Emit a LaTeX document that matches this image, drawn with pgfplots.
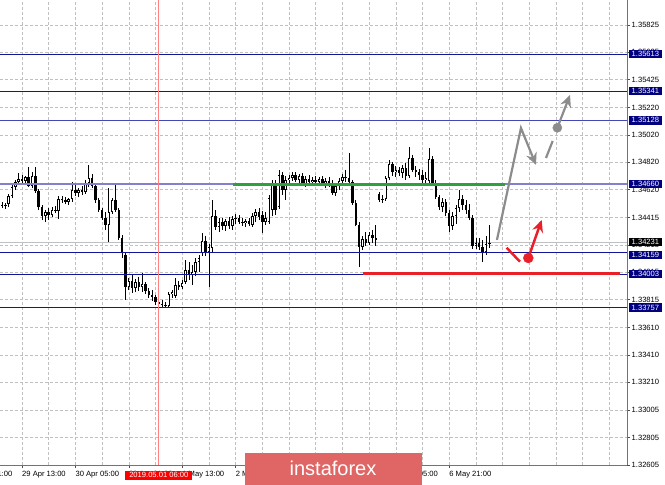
\documentclass[border=0pt]{standalone}
\usepackage{fontspec}
\setmainfont{Liberation Sans}
\usepackage{pgfplots}
\pgfplotsset{compat=1.18}
\usepackage{pgfplotstable}
\usetikzlibrary{arrows.meta}
\definecolor{mtnavy}{RGB}{20,20,150}
\definecolor{mtlav}{RGB}{128,128,205}
\definecolor{mtmid}{RGB}{70,70,180}
\definecolor{gridc}{RGB}{192,192,192}
\definecolor{grn}{RGB}{46,160,64}
\definecolor{lvred}{RGB}{234,32,40}
\definecolor{vred}{RGB}{255,130,130}
\definecolor{arrgray}{RGB}{140,140,140}
\definecolor{wmred}{RGB}{224,102,102}
\definecolor{pricegray}{RGB}{192,192,192}
\definecolor{boxnavy}{RGB}{0,0,128}
\newcommand{\tfont}{\fontsize{7.6}{8}\selectfont}
\pgfplotstableread{
x o h l c
-6 1.34508 1.34530 1.34486 1.34501
-5 1.34501 1.34522 1.34479 1.34508
-4 1.34515 1.34588 1.34493 1.34574
-3 1.34574 1.34654 1.34559 1.34640
-2 1.34640 1.34691 1.34618 1.34676
-1 1.34676 1.34742 1.34662 1.34698
0 1.34698 1.34727 1.34669 1.34684
1 1.34684 1.34720 1.34662 1.34713
2 1.34713 1.34786 1.34640 1.34647
3 1.34647 1.34749 1.34632 1.34720
4 1.34720 1.34786 1.34596 1.34610
5 1.34610 1.34625 1.34471 1.34493
6 1.34493 1.34508 1.34398 1.34427
7 1.34427 1.34471 1.34383 1.34457
8 1.34457 1.34486 1.34398 1.34435
9 1.34435 1.34493 1.34420 1.34471
10 1.34471 1.34501 1.34449 1.34464
11 1.34464 1.34574 1.34405 1.34552
12 1.34552 1.34574 1.34522 1.34544
13 1.34544 1.34566 1.34515 1.34530
14 1.34530 1.34559 1.34508 1.34552
15 1.34552 1.34676 1.34530 1.34618
16 1.34618 1.34654 1.34574 1.34596
17 1.34596 1.34632 1.34566 1.34618
18 1.34618 1.34647 1.34581 1.34603
19 1.34603 1.34691 1.34588 1.34669
20 1.34669 1.34801 1.34640 1.34705
21 1.34705 1.34735 1.34632 1.34647
22 1.34647 1.34669 1.34522 1.34544
23 1.34544 1.34559 1.34457 1.34471
24 1.34471 1.34486 1.34398 1.34413
25 1.34413 1.34457 1.34325 1.34362
26 1.34362 1.34632 1.34237 1.34457
27 1.34457 1.34559 1.34442 1.34544
28 1.34544 1.34669 1.34457 1.34471
29 1.34471 1.34486 1.34252 1.34266
30 1.34266 1.34288 1.34120 1.34157
31 1.34142 1.34157 1.33813 1.33908
32 1.33908 1.33974 1.33886 1.33952
33 1.33952 1.33996 1.33864 1.33900
34 1.33900 1.33966 1.33871 1.33944
35 1.33944 1.33981 1.33879 1.33908
36 1.33908 1.34010 1.33871 1.33930
37 1.33930 1.33944 1.33857 1.33879
38 1.33879 1.33900 1.33827 1.33849
39 1.33849 1.33886 1.33805 1.33835
40 1.33835 1.33849 1.33776 1.33798
41 1.33798 1.33820 1.33769 1.33783
42 1.33783 1.33813 1.33761 1.33776
43 1.33776 1.33798 1.33754 1.33769
44 1.33769 1.33871 1.33761 1.33857
45 1.33857 1.33886 1.33827 1.33871
46 1.33842 1.33974 1.33827 1.33922
47 1.33922 1.33952 1.33886 1.33908
48 1.33908 1.33959 1.33893 1.33937
49 1.33944 1.34105 1.33930 1.34032
50 1.34032 1.34091 1.33959 1.33996
51 1.33996 1.34069 1.33922 1.34018
52 1.34018 1.34120 1.33988 1.34091
53 1.34091 1.34142 1.34018 1.34120
54 1.34157 1.34303 1.34135 1.34244
55 1.34244 1.34281 1.34135 1.34164
56 1.34164 1.34222 1.33908 1.34201
57 1.34193 1.34544 1.34164 1.34427
58 1.34427 1.34471 1.34325 1.34347
59 1.34347 1.34413 1.34310 1.34383
60 1.34383 1.34413 1.34325 1.34354
61 1.34354 1.34405 1.34318 1.34391
62 1.34391 1.34420 1.34332 1.34354
63 1.34354 1.34427 1.34325 1.34405
64 1.34405 1.34442 1.34369 1.34413
65 1.34413 1.34435 1.34369 1.34383
66 1.34383 1.34413 1.34354 1.34376
67 1.34376 1.34405 1.34347 1.34391
68 1.34391 1.34413 1.34354 1.34369
69 1.34362 1.34449 1.34347 1.34427
70 1.34427 1.34479 1.34383 1.34457
71 1.34457 1.34486 1.34398 1.34420
72 1.34435 1.34464 1.34303 1.34383
73 1.34383 1.34457 1.34362 1.34413
74 1.34383 1.34581 1.34369 1.34559
75 1.34471 1.34691 1.34427 1.34654
76 1.34654 1.34691 1.34435 1.34471
77 1.34493 1.34764 1.34479 1.34727
78 1.34727 1.34749 1.34581 1.34618
79 1.34618 1.34720 1.34544 1.34691
80 1.34691 1.34727 1.34662 1.34705
81 1.34705 1.34749 1.34684 1.34727
82 1.34727 1.34749 1.34676 1.34691
83 1.34691 1.34735 1.34669 1.34720
84 1.34720 1.34742 1.34647 1.34662
85 1.34662 1.34720 1.34640 1.34698
86 1.34698 1.34727 1.34654 1.34676
87 1.34676 1.34713 1.34647 1.34691
88 1.34691 1.34720 1.34662 1.34676
89 1.34676 1.34713 1.34654 1.34698
90 1.34698 1.34720 1.34647 1.34669
91 1.34669 1.34705 1.34632 1.34684
92 1.34684 1.34713 1.34640 1.34654
93 1.34654 1.34691 1.34581 1.34596
94 1.34596 1.34669 1.34574 1.34647
95 1.34647 1.34705 1.34618 1.34684
96 1.34684 1.34735 1.34662 1.34713
97 1.34713 1.34764 1.34676 1.34705
98 1.34705 1.34888 1.34647 1.34676
99 1.34676 1.34691 1.34508 1.34522
100 1.34522 1.34544 1.34354 1.34362
101 1.34362 1.34383 1.34054 1.34201
102 1.34201 1.34281 1.34179 1.34259
103 1.34259 1.34310 1.34208 1.34230
104 1.34230 1.34310 1.34215 1.34288
105 1.34288 1.34325 1.34230 1.34266
106 1.34266 1.34362 1.34208 1.34252
107 1.34588 1.34603 1.34530 1.34544
108 1.34544 1.34581 1.34522 1.34552
109 1.34552 1.34720 1.34537 1.34705
110 1.34705 1.34837 1.34691 1.34808
111 1.34808 1.34823 1.34720 1.34749
112 1.34749 1.34793 1.34713 1.34764
113 1.34764 1.34786 1.34720 1.34742
114 1.34742 1.34801 1.34705 1.34779
115 1.34779 1.34815 1.34691 1.34720
116 1.34720 1.34932 1.34705 1.34852
117 1.34852 1.34874 1.34749 1.34764
118 1.34764 1.34793 1.34713 1.34749
119 1.34749 1.34771 1.34691 1.34727
120 1.34727 1.34764 1.34669 1.34691
121 1.34691 1.34749 1.34662 1.34705
122 1.34684 1.34925 1.34669 1.34844
123 1.34844 1.34866 1.34654 1.34669
124 1.34669 1.34691 1.34552 1.34566
125 1.34566 1.34581 1.34471 1.34493
126 1.34493 1.34559 1.34457 1.34530
127 1.34530 1.34552 1.34427 1.34449
128 1.34449 1.34471 1.34310 1.34354
129 1.34354 1.34457 1.34325 1.34427
130 1.34427 1.34508 1.34369 1.34486
131 1.34486 1.34618 1.34457 1.34552
132 1.34552 1.34581 1.34471 1.34508
133 1.34508 1.34544 1.34442 1.34471
134 1.34471 1.34515 1.34398 1.34413
135 1.34413 1.34435 1.34186 1.34208
136 1.34208 1.34266 1.34186 1.34230
137 1.34230 1.34266 1.34179 1.34201
138 1.34201 1.34252 1.34091 1.34164
139 1.34164 1.34281 1.34142 1.34222
140 1.34222 1.34362 1.34193 1.34231
}\candles
\begin{document}
\begin{tikzpicture}
\path[use as bounding box] (0,0) rectangle (665pt,485pt);
\begin{axis}[
  at={(0pt,20pt)}, anchor=south west,
  width=627pt, height=465pt, scale only axis,
  xmin=-6.592, xmax=181.27, ymin=1.32605, ymax=1.36008,
  axis x line=bottom, axis y line=right,
  axis line style={-, black!55, line width=0.9pt},
  clip mode=individual,
  xtick={0,16,32,48,64,80,96,112,128},
  xticklabels={29 Apr 13:00,30 Apr 05:00,30 Apr 21:00,1 May 13:00,2 May 05:00,2 May 21:00,3 May 13:00,6 May 05:00,6 May 21:00},
  minor xtick={8,24,40,56,72,88,104,120,136,144,152,160,168,176},
  ytick={1.32605,1.32805,1.33005,1.33210,1.33410,1.33610,1.33815,1.34015,1.34215,1.34415,1.34620,1.34820,1.35020,1.35220,1.35425,1.35625,1.35825},
  yticklabels={{1.32605},{1.32805},{1.33005},{1.33210},{1.33410},{1.33610},{1.33815},{1.34015},{1.34215},{1.34415},{1.34620},{1.34820},{1.35020},{1.35220},{1.35425},{1.35625},{1.35825}},
  grid=both,
  grid style={gridc, dash pattern=on 2.5pt off 2.5pt, line width=0.6pt},
  minor grid style={gridc, dash pattern=on 2.5pt off 2.5pt, line width=0.6pt},
  tick align=outside, major tick length=3pt, minor tick length=0pt,
  tick style={black!70, line width=0.6pt},
  xticklabel style={font=\tfont, anchor=north west, inner sep=0pt, yshift=-3pt},
  yticklabel style={font=\tfont, anchor=west, inner sep=0pt, xshift=1.5pt},
]
% current price line
\addplot[forget plot, pricegray, line width=0.8pt] coordinates {(-6.6,1.34231) (181.3,1.34231)};
% wicks
\addplot[forget plot, draw=none, mark=none,
  error bars/.cd, y dir=plus, y explicit, error mark=none,
  error bar style={draw=black, solid, line width=0.75pt}]
  table[x=x, y=l, y error plus expr={\thisrow{h}-\thisrow{l}}] {\candles};
% bodies
\addplot[forget plot, draw=none, mark=none,
  error bars/.cd, y dir=plus, y explicit, error mark=none,
  error bar style={draw=black, solid, line width=2.5pt}]
  table[x=x, y expr={min(\thisrow{o},\thisrow{c})}, y error plus expr={max(abs(\thisrow{c}-\thisrow{o}),0.00007)}] {\candles};
% bull interiors
\addplot[forget plot, draw=none, mark=none,
  restrict expr to domain={\thisrow{c}-\thisrow{o}}{0.00011:1},
  error bars/.cd, y dir=plus, y explicit, error mark=none,
  error bar style={draw=white, solid, line width=1.0pt}]
  table[x=x, y expr={\thisrow{o}+0.00005}, y error plus expr={\thisrow{c}-\thisrow{o}-0.0001}] {\candles};
% level lines
\addplot[forget plot, mtnavy, line width=0.9pt] coordinates {(-6.6,1.35613) (181.3,1.35613)};
\addplot[forget plot, mtnavy, line width=0.9pt] coordinates {(-6.6,1.35341) (181.3,1.35341)};
\addplot[forget plot, mtmid, line width=1.0pt] coordinates {(-6.6,1.35128) (181.3,1.35128)};
\addplot[forget plot, mtlav, line width=1.5pt] coordinates {(-6.6,1.34660) (181.3,1.34660)};
\addplot[forget plot, mtnavy, line width=0.9pt] coordinates {(-6.6,1.34159) (181.3,1.34159)};
\addplot[forget plot, mtnavy, line width=0.9pt] coordinates {(-6.6,1.34003) (181.3,1.34003)};
\addplot[forget plot, mtnavy, line width=0.9pt] coordinates {(-6.6,1.33757) (181.3,1.33757)};
% vertical red line
\addplot[forget plot, vred, line width=1.2pt] coordinates {(41,1.32605) (41,1.36008)};
% green and red levels
\addplot[forget plot, grn, line width=3pt] coordinates {(63.2,1.34660) (144.7,1.34660)};
\addplot[forget plot, lvred, line width=3pt] coordinates {(102.2,1.34003) (179.2,1.34003)};
% gray forecast
\addplot[forget plot, arrgray, line width=2.2pt, line join=miter, -{Stealth[length=12pt,width=11pt]}] coordinates {(142.3,1.34252) (149.5,1.35071) (154.0,1.34801)};
\addplot[forget plot, arrgray, line width=2.2pt] coordinates {(157.0,1.34852) (159.0,1.34976)};
\addplot[forget plot, arrgray, line width=2.2pt, -{Stealth[length=12pt,width=11pt]}] coordinates {(160.4,1.35073) (164.2,1.35313)};
\addplot[forget plot, only marks, mark=*, mark size=4.6pt, mark options={fill=arrgray, draw=arrgray}] coordinates {(160.4,1.35073)};
% red forecast
\addplot[forget plot, lvred, line width=2.5pt] coordinates {(145.2,1.34195) (149.2,1.34093)};
\addplot[forget plot, lvred, line width=2.5pt, -{Stealth[length=12pt,width=11pt]}] coordinates {(151.7,1.34120) (155.7,1.34398)};
\addplot[forget plot, only marks, mark=*, mark size=5pt, mark options={fill=lvred, draw=lvred}] coordinates {(151.7,1.34120)};
% anchors for labels
\coordinate (A1) at (axis cs:181.27,1.35613);
\coordinate (A2) at (axis cs:181.27,1.35341);
\coordinate (A3) at (axis cs:181.27,1.35128);
\coordinate (A4) at (axis cs:181.27,1.34660);
\coordinate (A5) at (axis cs:181.27,1.34231);
\coordinate (A6) at (axis cs:181.27,1.34159);
\coordinate (A7) at (axis cs:181.27,1.34003);
\coordinate (A8) at (axis cs:181.27,1.33757);
\coordinate (RL) at (axis cs:41,1.32605);
\coordinate (T0) at (axis cs:-16,1.32605);
\end{axis}
\tikzset{lvbox/.style={fill=boxnavy, text=white, font=\tfont, anchor=west, inner xsep=3pt, inner ysep=0pt, minimum height=8.6pt, xshift=1.5pt}}
\node[lvbox] at (A1) {1.35613};
\node[lvbox] at (A2) {1.35341};
\node[lvbox] at (A3) {1.35128};
\node[lvbox] at (A4) {1.34660};
\node[lvbox, yshift=-2.5pt] at (A6) {1.34159};
\node[lvbox, fill=black, yshift=1pt] at (A5) {1.34231};
\node[lvbox] at (A7) {1.34003};
\node[lvbox] at (A8) {1.33757};
\node[font=\tfont, anchor=north west, inner sep=0pt, yshift=-6pt] at (T0) {28 Apr 21:00};
\node[fill=red, text=white, font=\tfont, anchor=north, inner xsep=4pt, inner ysep=1pt, minimum height=9pt, yshift=-5.5pt] at (RL) {2019.05.01 06:00};
\fill[wmred] (245pt,0pt) rectangle (422pt,32pt);
\node[text=white, font=\fontsize{20}{22}\selectfont, anchor=center] at (333pt,17pt) {instaforex};
\end{tikzpicture}
\end{document}
